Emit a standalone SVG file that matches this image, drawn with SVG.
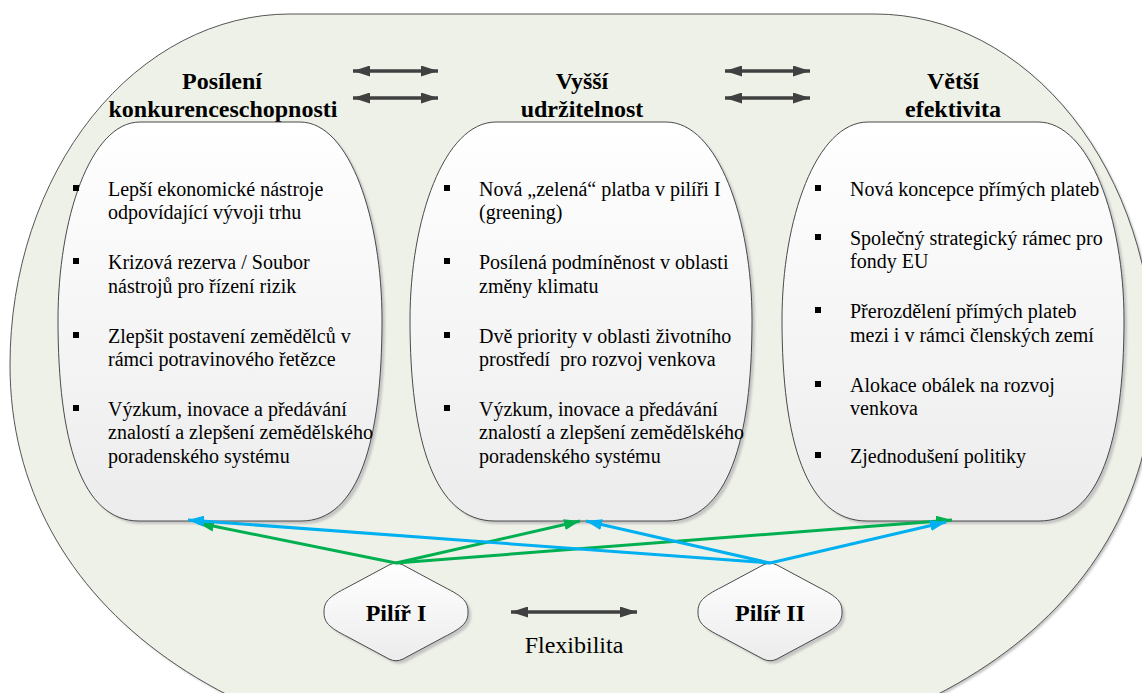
<svg xmlns="http://www.w3.org/2000/svg" xmlns:xlink="http://www.w3.org/1999/xlink" width="1142" height="693" viewBox="0 0 1142 693">
  <defs>
    <linearGradient id="shapeFill" x1="0" y1="0" x2="0" y2="1">
      <stop offset="0" stop-color="#ffffff"/>
      <stop offset="1" stop-color="#ececec"/>
    </linearGradient>
    <filter id="soft" x="-5%" y="-5%" width="110%" height="110%">
      <feGaussianBlur stdDeviation="1.2"/>
    </filter>
    <marker id="headDark" viewBox="0 0 17 11" refX="17" refY="5.5" markerWidth="17" markerHeight="11" markerUnits="userSpaceOnUse" orient="auto-start-reverse">
      <path d="M0,0 L17,5.5 L0,11 Z" fill="#404040"/>
    </marker>
    <marker id="headGreen" viewBox="0 0 16 11" refX="16" refY="5.5" markerWidth="16" markerHeight="11" markerUnits="userSpaceOnUse" orient="auto">
      <path d="M0,0 L16,5.5 L0,11 Z" fill="#00b050"/>
    </marker>
    <marker id="headBlue" viewBox="0 0 16 11" refX="16" refY="5.5" markerWidth="16" markerHeight="11" markerUnits="userSpaceOnUse" orient="auto">
      <path d="M0,0 L16,5.5 L0,11 Z" fill="#00b0f0"/>
    </marker>
    <path id="outerShape" d="M290,14 L875,14 A279 351 0 0 1 1154,365 C1154,608 925,770 582,770 C239,770 10,608 10,365 A280 351 0 0 1 290,14 Z"/>
    <path id="shapeLeft" d="M140,122 L300,122 C350,122 382,220 382,320 C382,440 359,521 301,521 L139,521 C81,521 58,440 58,320 C58,220 90,122 140,122 Z"/>
    <path id="shapeMid" d="M496,122 L666,122 C718,122 752,220 752,320 C752,440 728,521 667,521 L495,521 C434,521 410,440 410,320 C410,220 444,122 496,122 Z"/>
    <path id="shapeRight" d="M868,122 L1038,122 C1090,122 1124,220 1124,320 C1124,440 1100,521 1039,521 L867,521 C806,521 782,440 782,320 C782,220 816,122 868,122 Z"/>
  </defs>
  <style>
    .outer { fill: #eef1e7; stroke: #555555; stroke-width: 1; }
    .shadow { fill: #c4c4c4; filter: url(#soft); }
    .box { fill: url(#shapeFill); stroke: #4a4a4a; stroke-width: 1; }
    .head { font-family: "Liberation Serif", "Times New Roman", serif; font-size: 24px; font-weight: bold; fill: #000; text-anchor: middle; }
    .item { font-family: "Liberation Serif", "Times New Roman", serif; font-size: 20px; fill: #000; }
    .bullet { fill: #000; }
    .label { font-family: "Liberation Serif", "Times New Roman", serif; font-size: 24px; fill: #000; text-anchor: middle; }
    .twoway { stroke: #404040; stroke-width: 3.5; fill: none; marker-start: url(#headDark); marker-end: url(#headDark); }
    .green { stroke: #00b050; stroke-width: 3; fill: none; marker-end: url(#headGreen); }
    .blue { stroke: #00b0f0; stroke-width: 3; fill: none; marker-end: url(#headBlue); }
  </style>

  <!-- background frame -->
  <g id="frame">
    <use xlink:href="#outerShape" class="shadow" transform="translate(2,2)"/>
    <use xlink:href="#outerShape" class="outer"/>
  </g>

  <!-- objective 1 -->
  <g id="konkurenceschopnost">
    <text class="head" x="222" y="89">Posílení</text>
    <text class="head" x="223" y="117">konkurenceschopnosti</text>
    <use xlink:href="#shapeLeft" class="shadow" transform="translate(3,3)"/>
    <use xlink:href="#shapeLeft" class="box"/>
    <rect class="bullet" x="73" y="185" width="6" height="6"/>
    <text class="item" x="108" y="196">Lepší ekonomické nástroje</text>
    <text class="item" x="108" y="219">odpovídající vývoji trhu</text>
    <rect class="bullet" x="73" y="258" width="6" height="6"/>
    <text class="item" x="108" y="269">Krizová rezerva / Soubor</text>
    <text class="item" x="108" y="293">nástrojů pro řízení rizik</text>
    <rect class="bullet" x="73" y="332" width="6" height="6"/>
    <text class="item" x="108" y="343">Zlepšit postavení zemědělců v</text>
    <text class="item" x="108" y="366">rámci potravinového řetězce</text>
    <rect class="bullet" x="73" y="405" width="6" height="6"/>
    <text class="item" x="108" y="416">Výzkum, inovace a předávání</text>
    <text class="item" x="108" y="439">znalostí a zlepšení zemědělského</text>
    <text class="item" x="108" y="463">poradenského systému</text>
  </g>

  <!-- objective 2 -->
  <g id="udrzitelnost">
    <text class="head" x="582" y="89">Vyšší</text>
    <text class="head" x="582" y="117">udržitelnost</text>
    <use xlink:href="#shapeMid" class="shadow" transform="translate(3,3)"/>
    <use xlink:href="#shapeMid" class="box"/>
    <rect class="bullet" x="444" y="185" width="6" height="6"/>
    <text class="item" x="479" y="196">Nová „zelená“ platba v pilíři I</text>
    <text class="item" x="479" y="219">(greening)</text>
    <rect class="bullet" x="444" y="258" width="6" height="6"/>
    <text class="item" x="479" y="269">Posílená podmíněnost v oblasti</text>
    <text class="item" x="479" y="293">změny klimatu</text>
    <rect class="bullet" x="444" y="332" width="6" height="6"/>
    <text class="item" x="479" y="343">Dvě priority v oblasti životního</text>
    <text class="item" x="479" y="366" xml:space="preserve">prostředí  pro rozvoj venkova</text>
    <rect class="bullet" x="444" y="405" width="6" height="6"/>
    <text class="item" x="479" y="416">Výzkum, inovace a předávání</text>
    <text class="item" x="479" y="439">znalostí a zlepšení zemědělského</text>
    <text class="item" x="479" y="463">poradenského systému</text>
  </g>

  <!-- objective 3 -->
  <g id="efektivita">
    <text class="head" x="953" y="89">Větší</text>
    <text class="head" x="953" y="117">efektivita</text>
    <use xlink:href="#shapeRight" class="shadow" transform="translate(3,3)"/>
    <use xlink:href="#shapeRight" class="box"/>
    <rect class="bullet" x="815" y="185" width="6" height="6"/>
    <text class="item" x="850" y="196">Nová koncepce přímých plateb</text>
    <rect class="bullet" x="815" y="234" width="6" height="6"/>
    <text class="item" x="850" y="245">Společný strategický rámec pro</text>
    <text class="item" x="850" y="268">fondy EU</text>
    <rect class="bullet" x="815" y="307" width="6" height="6"/>
    <text class="item" x="850" y="318">Přerozdělení přímých plateb</text>
    <text class="item" x="850" y="342">mezi i v rámci členských zemí</text>
    <rect class="bullet" x="815" y="381" width="6" height="6"/>
    <text class="item" x="850" y="392">Alokace obálek na rozvoj</text>
    <text class="item" x="850" y="415">venkova</text>
    <rect class="bullet" x="815" y="452" width="6" height="6"/>
    <text class="item" x="850" y="463">Zjednodušení politiky</text>
  </g>

  <!-- pillar I -->
  <g id="pilir1">
    <path class="shadow" transform="translate(3,3)" d="M389,565 Q396,561.5 403,565 L444,587 C464,597 468,602 468,612 C468,622 464,627 444,637 L403,659 Q396,662.5 389,659 L348,637 C328,627 324,622 324,612 C324,602 328,597 348,587 Z"/>
    <path class="box" d="M389,565 Q396,561.5 403,565 L444,587 C464,597 468,602 468,612 C468,622 464,627 444,637 L403,659 Q396,662.5 389,659 L348,637 C328,627 324,622 324,612 C324,602 328,597 348,587 Z"/>
    <text class="head" x="396" y="621">Pilíř I</text>
  </g>

  <!-- pillar II -->
  <g id="pilir2">
    <path class="shadow" transform="translate(3,3)" d="M763,565 Q770,561.5 777,565 L818,587 C838,597 842,602 842,612 C842,622 838,627 818,637 L777,659 Q770,662.5 763,659 L722,637 C702,627 698,622 698,612 C698,602 702,597 722,587 Z"/>
    <path class="box" d="M763,565 Q770,561.5 777,565 L818,587 C838,597 842,602 842,612 C842,622 838,627 818,637 L777,659 Q770,662.5 763,659 L722,637 C702,627 698,622 698,612 C698,602 702,597 722,587 Z"/>
    <text class="head" x="770" y="621">Pilíř II</text>
  </g>

  <!-- links -->
  <g id="connectors">
    <line class="twoway" x1="353" y1="71" x2="438" y2="71"/>
    <line class="twoway" x1="353" y1="98" x2="438" y2="98"/>
    <line class="twoway" x1="725" y1="71" x2="810" y2="71"/>
    <line class="twoway" x1="725" y1="98" x2="810" y2="98"/>
    <line class="twoway" x1="511" y1="612" x2="637" y2="612"/>

    <line class="green" x1="396" y1="563" x2="198" y2="523"/>
    <line class="green" x1="396" y1="563" x2="580" y2="521"/>
    <line class="green" x1="396" y1="563" x2="952" y2="520"/>
    <line class="blue" x1="770" y1="563" x2="188" y2="520"/>
    <line class="blue" x1="770" y1="563" x2="586" y2="521"/>
    <line class="blue" x1="770" y1="563" x2="946" y2="522"/>
  </g>

  <text class="label" x="574" y="653">Flexibilita</text>
</svg>
